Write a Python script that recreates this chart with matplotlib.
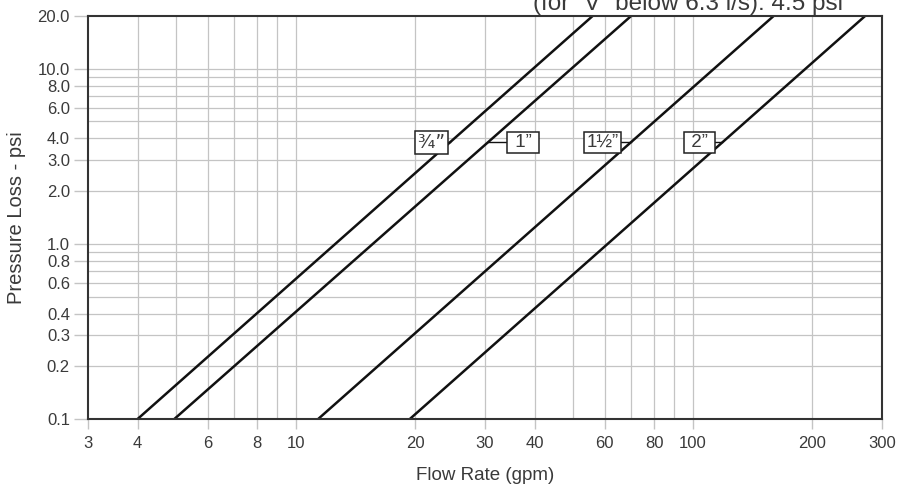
import numpy as np
import matplotlib
matplotlib.use('Agg')
from matplotlib import pyplot as plt
from matplotlib.ticker import FixedLocator, NullFormatter

plt.rcParams['font.family'] = ['Liberation Sans', 'DejaVu Sans']

# pipe sizes and where each line meets the bottom (0.1 psi) and top (20 psi)
sizes = ['³⁄₄”', '1”', '1½”', '2”']
flow_at_low = [4.0, 4.95, 11.4, 19.4]
flow_at_high = [56.0, 70.0, 160.0, 272.0]
p_low, p_high = 0.1, 20.0

# label boxes: position (gpm, psi)
label_x = [22.0, 37.4, 59.4, 104.0]
label_p = 3.8

x_ticks = [3, 4, 6, 8, 10, 20, 30, 40, 60, 80, 100, 200, 300]
x_grid = [4, 5, 6, 7, 8, 9, 10, 20, 30, 40, 50, 60, 70, 80, 90, 100, 200]
y_ticks = [0.1, 0.2, 0.3, 0.4, 0.6, 0.8, 1.0, 2.0, 3.0, 4.0, 6.0, 8.0, 10.0, 20.0]
y_grid = [0.2, 0.3, 0.4, 0.5, 0.6, 0.7, 0.8, 0.9, 1, 2, 3, 4, 5, 6, 7, 8, 9, 10]

txt = '#3a3a3a'
grid_c = '#c4c4c4'

fig = plt.figure(figsize=(8.98, 4.88), dpi=100)
ax = fig.add_axes([88 / 898, 1 - 419 / 488, 794 / 898, 403 / 488])
ax.set_xscale('log')
ax.set_yscale('log')
ax.set_xlim(3, 300)
ax.set_ylim(0.1, 20)

for g in x_grid:
    ax.axvline(g, color=grid_c, lw=0.9, zorder=1)
for g in y_grid:
    ax.axhline(g, color=grid_c, lw=0.9, zorder=1)

for lo, hi in zip(flow_at_low, flow_at_high):
    ax.plot([lo, hi], [p_low, p_high], color='#111111', lw=1.8, zorder=3,
            solid_capstyle='butt')

# size labels with a short leader to their line
slope = np.log10(p_high / p_low)
for name, lx, lo, hi in zip(sizes, label_x, flow_at_low, flow_at_high):
    frac = np.log10(label_p / p_low) / slope
    cx = 10 ** (np.log10(lo) + frac * np.log10(hi / lo))
    ax.plot([lx, cx], [label_p, label_p], color='#111111', lw=1, zorder=2)
    shown = name if len(name) > 2 else ' ' + name + ' '
    ax.text(lx, label_p, shown, ha='center', va='center', fontsize=13.5, color=txt,
            zorder=4, family=['DejaVu Sans'] if name.startswith('³') else None,
            bbox=dict(boxstyle='square,pad=0.12', fc='white', ec='#222222', lw=1.1))

ax.xaxis.set_major_locator(FixedLocator(x_ticks))
ax.xaxis.set_minor_locator(FixedLocator([]))
ax.set_xticklabels([str(v) for v in x_ticks])
ax.yaxis.set_major_locator(FixedLocator(y_ticks))
ax.yaxis.set_minor_locator(FixedLocator([]))
ax.yaxis.set_minor_formatter(NullFormatter())
ax.set_yticklabels(['%.1f' % v for v in y_ticks])
ax.tick_params(axis='both', colors=grid_c, labelcolor=txt, labelsize=12, width=1)
ax.tick_params(axis='y', length=10, pad=3)
ax.tick_params(axis='x', length=7, pad=5)

for s in ax.spines.values():
    s.set_color('#333333')
    s.set_linewidth(1.5)
    s.set_zorder(5)

ax.set_xlabel('Flow Rate (gpm)', fontsize=13.5, color=txt, labelpad=12)
ax.set_ylabel('Pressure Loss - psi', fontsize=14.5, color=txt, labelpad=8)

fig.text(843 / 898, 1 - 10 / 488, '(for “V” below 6.3 l/s): 4.5 psi',
         ha='right', va='baseline', fontsize=17.5, color=txt)

fig.savefig('out.png', dpi=100)
plt.close(fig)
